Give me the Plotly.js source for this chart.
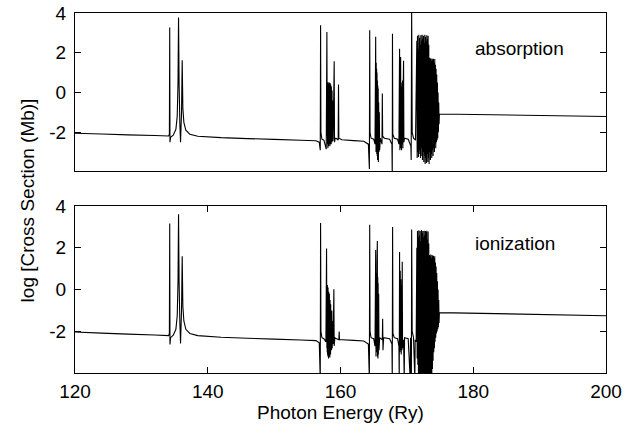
<!DOCTYPE html>
<html><head><meta charset="utf-8">
<script src="https://cdn.plot.ly/plotly-3.0.1.min.js"></script>
<style>html,body{margin:0;padding:0;background:#fff}#chart{width:636px;height:434px}</style>
</head><body><div id="chart"></div>
<script>
// Photon energy (Ry), log cross section (Mb)
const absorptionPoints = [
[120,-2.05],[124,-2.09],[128,-2.13],[132,-2.16],[134.1,-2.19],[134.22,-2.1],[134.27,3.27],[134.31,-2.5],[134.4,-2.25],[134.8,-2.15],
[135.2,-1.85],[135.4,-1.2],[135.52,0.5],[135.6,3.77],[135.68,0.5],[135.8,-1.6],[135.9,-2.5],[136.05,-1.0],[136.15,1.62],[136.25,-0.8],
[136.4,-1.5],[136.7,-1.9],[137.3,-2.1],[138.5,-2.2],[142,-2.27],[146,-2.32],[150,-2.36],[154,-2.4],[156.3,-2.43],[156.8,-2.5],
[156.95,-2.9],[157.0,3.38],[157.05,-2.0],[157.2,-2.35],[157.5,-2.4],[157.85,-2.85],[157.95,3.05],[158.0,-2.2],
[158.025,0.5],[158.05,-2.6],[158.075,0.3],[158.1,-2.8],[158.125,0.52],[158.15,-2.4],[158.175,0.2],[158.2,-2.7],[158.225,0.45],[158.25,-2.5],
[158.275,0.1],[158.3,-2.6],[158.325,0.5],[158.35,-2.3],[158.375,0.3],[158.4,-2.7],[158.425,0.48],[158.45,-2.45],[158.475,0.2],[158.5,-2.6],
[158.525,0.4],[158.55,-2.5],[158.575,0.0],[158.6,-2.6],[158.625,0.3],[158.65,-2.4],[158.675,-0.2],[158.7,-2.5],[158.725,0.1],[158.75,-2.3],
[158.8,-0.4],[158.85,-2.45],[158.9,-2.3],[159.05,1.57],[159.1,-2.5],[159.2,-2.3],[159.4,-2.32],[159.65,-2.4],
[159.7,0.4],[159.75,-2.3],[160.2,-2.38],[162,-2.42],[163.5,-2.45],[164.2,-2.6],[164.35,-3.85],[164.4,3.13],[164.45,-2.0],[164.6,-2.3],
[165.0,-2.35],[165.2,-2.6],[165.3,2.8],[165.35,-3.0],[165.38,1.5],[165.41,-2.8],[165.44,1.2],[165.47,-3.1],[165.5,1.0],[165.53,-3.2],
[165.56,0.6],[165.59,-3.4],[165.62,0.35],[165.65,-3.3],[165.68,0.2],[165.71,-3.5],[165.75,-0.5],[165.8,-3.0],[165.85,-1.0],[165.9,-2.9],
[166.0,-2.3],[166.25,-2.6],[166.3,-0.05],[166.35,-2.2],[166.6,-2.3],[167.4,-2.35],[167.75,-2.6],[167.8,-4.3],
[167.83,2.96],[167.88,-2.1],[168.1,-2.3],[168.6,-2.35],[168.8,-2.6],[168.9,2.2],[168.95,-2.9],[169.0,0.8],[169.03,-2.8],[169.06,1.78],
[169.1,-2.7],[169.15,0.5],[169.2,-2.9],[169.25,0.3],[169.3,-2.6],[169.35,0.6],[169.4,-2.8],[169.45,0.2],[169.5,1.6],[169.55,-2.5],
[169.65,-2.3],[170.2,-2.35],[170.6,-2.7],[170.65,-3.4],[170.72,4.3],
[170.8,-2.0],[171.0,-2.3],[171.3,-2.4],
[171.5,2.6],[171.55,-3.3],[171.6,2.85],[171.65,-3.0],[171.7,2.2],[171.75,-3.25],[171.8,2.9],[171.85,-2.9],[171.9,2.75],[171.95,-3.1],
[172.0,2.4],[172.05,-3.3],[172.1,2.88],[172.15,-2.8],[172.2,2.6],[172.25,-3.2],[172.3,2.9],[172.35,-3.4],[172.4,2.7],[172.45,-3.0],
[172.5,2.85],[172.55,-3.5],[172.6,2.5],[172.65,-3.2],[172.7,2.9],[172.75,-3.6],[172.8,2.8],[172.85,-3.3],[172.9,2.6],[172.95,-3.55],
[173.0,2.88],[173.05,-3.1],[173.1,2.7],[173.15,-3.5],[173.2,2.85],[173.25,-3.3],[173.3,2.4],[173.35,-3.6],[173.4,1.75],[173.45,-3.0],
[173.5,1.7],[173.55,-3.4],[173.6,1.72],[173.65,-3.1],[173.7,1.6],[173.75,-3.3],[173.8,1.7],[173.85,-2.9],[173.9,1.65],[173.95,-3.2],
[174.0,1.7],[174.05,-2.8],[174.1,1.5],[174.15,-3.0],[174.2,1.68],[174.25,-2.6],[174.3,1.4],[174.35,-2.8],[174.4,1.2],[174.45,-2.5],
[174.5,0.9],[174.55,-2.4],[174.6,0.5],[174.65,-2.3],[174.7,0.0],[174.75,-2.0],[174.8,-0.5],[174.85,-1.6],[174.9,-1.08],[200,-1.21]
];
const ionizationPoints = [
[120,-2.03],[124,-2.08],[128,-2.13],[132,-2.17],[134.1,-2.2],[134.22,-2.1],[134.27,3.16],[134.31,-2.63],[134.4,-2.3],[134.8,-2.18],
[135.2,-1.9],[135.4,-1.25],[135.52,0.4],[135.6,3.6],[135.68,0.4],[135.8,-1.6],[135.9,-2.58],[136.05,-1.0],[136.15,1.6],[136.25,-0.8],
[136.4,-1.5],[136.7,-1.9],[137.3,-2.1],[138.5,-2.2],[142,-2.28],[146,-2.33],[150,-2.37],[154,-2.41],[156.3,-2.44],[156.8,-2.55],
[156.95,-4.3],[157.0,3.19],[157.05,-2.0],[157.2,-2.3],[157.5,-2.35],[157.8,-2.5],[157.9,1.97],[157.95,-2.8],
[157.975,0.0],[158.0,-3.0],[158.025,0.22],[158.05,-3.1],[158.075,-0.3],[158.1,-3.2],[158.125,0.1],[158.15,-2.9],[158.175,-0.4],[158.2,-3.3],
[158.225,-0.1],[158.25,-3.0],[158.275,-0.6],[158.3,-3.2],[158.325,-0.2],[158.35,-3.1],[158.375,-0.8],[158.4,-3.25],[158.425,-0.5],[158.45,-2.9],
[158.475,-1.0],[158.5,-3.1],[158.525,-0.7],[158.55,-2.8],[158.6,-1.2],[158.65,-2.9],[158.7,-1.0],[158.75,-2.8],[158.85,-1.5],[158.9,-2.6],
[159.0,0.02],[159.05,-2.7],[159.15,-2.3],[159.4,-2.35],[159.75,-2.4],[159.8,-2.0],
[159.85,-2.4],[160.3,-2.4],[162,-2.43],[163.5,-2.46],[164.2,-2.6],[164.35,-4.3],[164.4,3.1],[164.45,-2.0],[164.6,-2.3],[165.0,-2.35],
[165.2,-2.7],[165.3,1.9],[165.35,-3.2],[165.4,0.8],[165.45,-3.0],[165.5,1.2],[165.55,2.32],[165.58,-3.2],[165.61,0.6],[165.64,-3.3],
[165.67,0.3],[165.7,-3.1],[165.75,-0.2],[165.8,-2.9],[165.9,-2.3],
[166.3,-2.4],[166.35,-1.4],[166.4,-2.9],[166.5,-2.3],[167.4,-2.35],[167.75,-2.6],[167.8,-4.3],[167.85,3.0],[167.9,-2.1],[168.1,-2.3],
[168.6,-2.35],[168.8,-2.7],[168.85,-4.3],[168.9,1.8],[168.95,-3.0],[169.0,0.9],[169.05,-2.9],[169.1,0.5],[169.15,-3.1],[169.2,0.2],
[169.25,-2.9],[169.3,1.33],[169.35,-2.8],[169.5,-2.4],
[169.6,-4.3],[169.65,-2.3],[170.2,-2.35],[170.5,-4.3],[170.55,-2.3],[170.65,-2.6],[170.68,-4.3],[170.72,2.88],[170.8,-2.0],[171.0,-2.3],
[171.2,-4.3],[171.25,-2.4],[171.4,-2.5],
[171.5,2.0],[171.55,-3.3],[171.6,2.8],[171.65,-3.6],[171.7,2.5],[171.75,-4.3],[171.8,2.84],[171.85,-4.3],[171.9,2.6],[171.95,-4.3],
[172.0,2.8],[172.05,-4.3],[172.1,2.3],[172.15,-4.3],[172.2,2.85],[172.25,-4.3],[172.3,2.7],[172.35,-4.3],[172.4,2.8],[172.45,-4.3],
[172.5,2.5],[172.55,-4.3],[172.6,2.82],[172.65,-4.3],[172.7,2.6],[172.75,-4.3],[172.8,2.8],[172.85,-4.3],[172.9,2.75],[172.95,-4.3],
[173.0,2.82],[173.05,-4.3],[173.1,2.4],[173.15,-4.3],[173.2,2.78],[173.25,-4.3],[173.3,2.2],[173.35,-4.3],[173.4,1.65],[173.45,-4.3],
[173.5,1.6],[173.55,-4.3],[173.6,1.68],[173.65,-4.3],[173.7,1.5],[173.75,-4.3],[173.8,1.65],[173.85,-3.8],[173.9,1.6],[173.95,-3.4],
[174.0,1.62],[174.05,-3.0],[174.1,1.5],[174.15,-2.8],[174.2,1.6],[174.25,-2.5],[174.3,1.3],[174.35,-2.3],[174.4,1.1],[174.45,-2.1],
[174.5,0.8],[174.55,-2.0],[174.6,0.4],[174.65,-1.9],[174.7,0.0],[174.75,-1.8],[174.8,-0.5],[174.85,-1.6],[174.9,-1.1],[200,-1.25]
];
const xTicks = [120, 140, 160, 180, 200];
const yTicks = [-2, 0, 2, 4];
const panelLabels = ["absorption", "ionization"];

const FONT = {family: "Liberation Sans, Arial, Helvetica, sans-serif", size: 19, color: "#000"};
const traces = [
  {x: absorptionPoints.map(p => p[0]), y: absorptionPoints.map(p => p[1]), xaxis: "x2", yaxis: "y2",
   type: "scatter", mode: "lines", line: {color: "#000", width: 1.1, simplify: false}, hoverinfo: "skip"},
  {x: ionizationPoints.map(p => p[0]), y: ionizationPoints.map(p => p[1]), xaxis: "x", yaxis: "y",
   type: "scatter", mode: "lines", line: {color: "#000", width: 1.1, simplify: false}, hoverinfo: "skip"}
];
const yBase = {tickmode: "array", tickvals: yTicks, ticktext: yTicks.map(String), ticks: "inside", ticklen: 6,
  tickcolor: "#000", showline: true, linecolor: "#000", linewidth: 1, mirror: "ticks", showgrid: false,
  zeroline: false, tickfont: FONT, ticklabelstandoff: 4};
const layout = {
  width: 636, height: 434, margin: {l: 75, r: 30, t: 13, b: 61},
  paper_bgcolor: "#fff", plot_bgcolor: "#fff", showlegend: false, font: FONT,
  xaxis: {domain: [0, 1], anchor: "y", range: [120, 200], tickmode: "array", tickvals: xTicks, ticktext: xTicks.map(String),
    ticks: "inside", ticklen: 6, tickcolor: "#000", showline: true, linecolor: "#000", linewidth: 1, mirror: "ticks",
    showgrid: false, zeroline: false, tickfont: FONT, ticklabelstandoff: 1,
    title: {text: "Photon Energy (Ry)", font: FONT, standoff: 3}},
  xaxis2: {domain: [0, 1], anchor: "y2", range: [120, 200], showticklabels: false, ticks: "",
    showline: true, linecolor: "#000", linewidth: 1, mirror: true, showgrid: false, zeroline: false},
  yaxis: Object.assign({}, yBase, {domain: [0, 0.4639], anchor: "x", range: [-3.99, 4]}),
  yaxis2: Object.assign({}, yBase, {domain: [0.5611, 1], anchor: "x2", range: [-3.95, 4]}),
  annotations: [
    {xref: "x2", yref: "y2", x: 187.0, y: 2.22, text: panelLabels[0], showarrow: false, font: FONT},
    {xref: "x", yref: "y", x: 186.3, y: 2.22, text: panelLabels[1], showarrow: false, font: FONT},
    {xref: "paper", yref: "paper", x: -0.09, y: 0.48, text: "log [Cross Section (Mb)]", textangle: -90,
     showarrow: false, font: FONT, xanchor: "center", yanchor: "middle"}
  ]
};
Plotly.newPlot("chart", traces, layout, {staticPlot: true, displayModeBar: false});
</script></body></html>
